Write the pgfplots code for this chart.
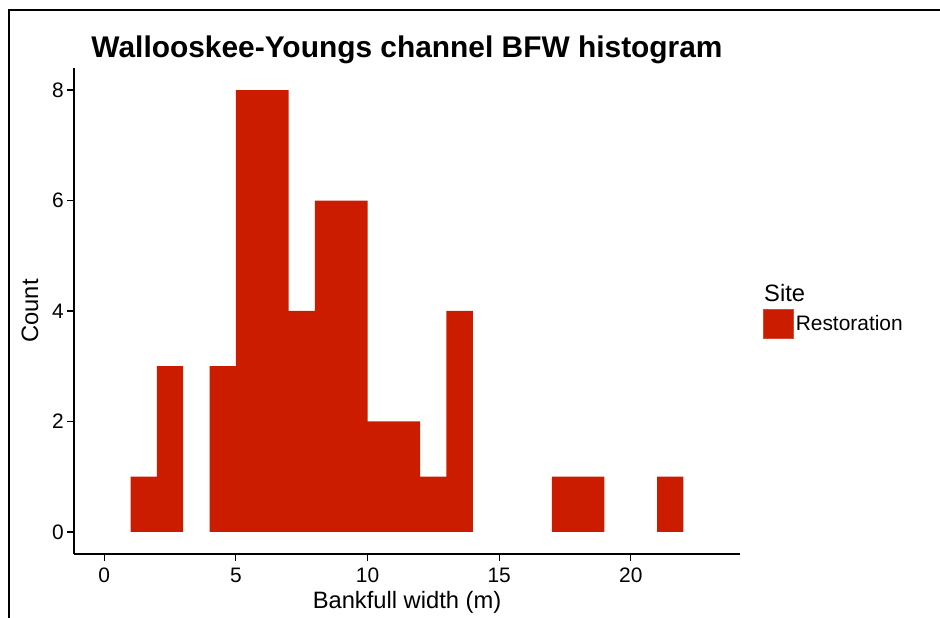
\documentclass[border=0pt]{standalone}
\usepackage{fontspec}
\setmainfont{Liberation Sans}
\usepackage{pgfplots}
\pgfplotsset{compat=1.18}
\definecolor{barred}{RGB}{204,28,0}

\begin{document}
\begin{tikzpicture}[x=1bp,y=1bp]
\path[use as bounding box] (0,0) rectangle (940,618);
% outer frame (top and left edges)
\draw[line width=2bp] (9,0) -- (9,608) -- (940,608);
\begin{axis}[
  at={(74bp,64bp)}, anchor=south west,
  scale only axis, width=666bp, height=486bp,
  xmin=-1.15, xmax=24.15, ymin=-0.4, ymax=8.4,
  axis lines=left,
  axis line style={-, line width=1.2bp, black},
  xtick={0,5,10,15,20}, ytick={0,2,4,6,8},
  tick align=outside, major tick length=7bp,
  tick style={black, line width=1.2bp},
  /pgf/number format/assume math mode=true,
  ticklabel style={font=\fontsize{21}{25}\selectfont, inner sep=0pt},
  xticklabel style={anchor=north, yshift=-7bp},
  yticklabel style={anchor=east, xshift=-3bp},
  title={Wallooskee-Youngs channel BFW histogram},
  title style={at={(axis description cs:0.5,1)}, anchor=base, yshift=5bp,
    font=\bfseries\fontsize{30}{35}\selectfont, inner sep=0pt},
  xlabel={Bankfull width (m)},
  xlabel style={at={(axis description cs:0.5,0)}, anchor=base, yshift=-55bp,
    font=\fontsize{23.8}{28}\selectfont, inner sep=0pt},
  ylabel={Count},
  % the label is already turned by 90 degrees, so yshift moves it to the left
  ylabel style={at={(axis description cs:0,0.5)}, anchor=base, yshift=36bp,
    font=\fontsize{23.8}{28}\selectfont, inner sep=0pt},
  legend image code/.code={\draw[fill=barred, draw=barred!80!white, line width=0.6bp] (0bp,-14.5bp) rectangle (30bp,14.5bp);},
  legend style={at={(axis description cs:1.0345,0.4743)}, anchor=west,
    draw=none, fill=none, inner sep=0pt, column sep=0bp,
    font=\fontsize{21}{25}\selectfont},
  legend cell align=left,
]
% bins of width 1, drawn at their centres (empty bins left out)
\addplot[ybar, bar width=1, bar shift=0, fill=barred, draw=none] coordinates {
  (1.5,1) (2.5,3) (4.5,3) (5.5,8) (6.5,8) (7.5,4) (8.5,6) (9.5,6)
  (10.5,2) (11.5,2) (12.5,1) (13.5,4) (17.5,1) (18.5,1) (21.5,1)
};
\addlegendentry{Restoration}
\end{axis}
\node[anchor=base west, inner sep=0pt, font=\fontsize{23.8}{28}\selectfont] at (764,316) {Site};
\end{tikzpicture}
\end{document}
